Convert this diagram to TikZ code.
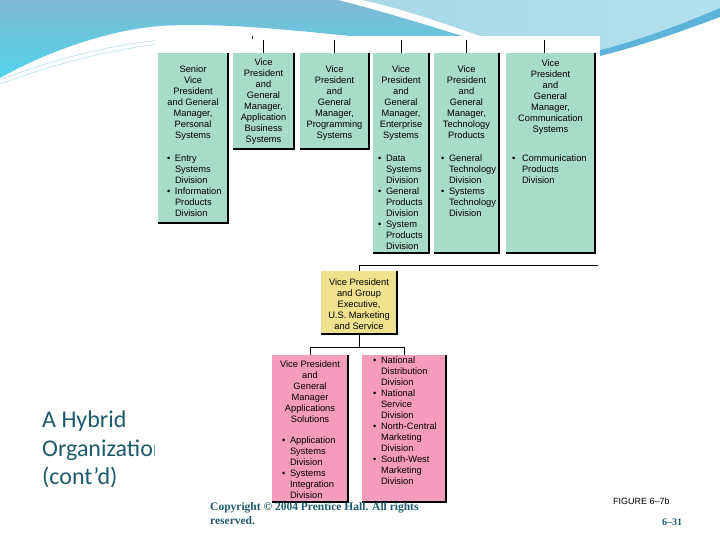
\documentclass[tikz,border=0pt]{standalone}
\usepackage{fontspec}
\setmainfont{Liberation Sans}
\newfontfamily\titlefam{Carlito}
\newfontfamily\copyfam{Liberation Serif}
\usetikzlibrary{positioning}

\definecolor{mintfill}{HTML}{A9DCC8}
\definecolor{sandfill}{HTML}{EFE28E}
\definecolor{rosefill}{HTML}{F59BBB}
\definecolor{slideteal}{HTML}{1D5A6B}
\definecolor{skytop}{HTML}{80B9D4}
\definecolor{skycyan}{HTML}{50D4EA}
\definecolor{skypale}{HTML}{B2E0EE}
\definecolor{skytail}{HTML}{5DB4DA}

\newcommand{\boxfont}{\fontsize{9.3}{11}\selectfont}
% box body: width, height, top gap, contents
\newcommand{\orgbody}[4]{\parbox[c][#2pt][t]{#1pt}{\vspace*{#3pt}#4}}
\newcommand{\orghead}[1]{{\centering #1\par}}
\newcommand{\orgitem}[2]{{\raggedright\leftskip=\dimexpr #1pt+8pt\relax
  \noindent\llap{\makebox[8pt][l]{\textbullet}}#2\par}}

\tikzset{
  orgbox/.style={anchor=north west, inner sep=0pt, outer sep=0pt, font=\boxfont},
  greenbox/.style={orgbox, fill=mintfill},
  yellowbox/.style={orgbox, fill=sandfill},
  pinkbox/.style={orgbox, fill=rosefill},
  orgline/.style={black, line width=0.9pt},
  boxedge/.style={black, line width=1.1pt}
}

\begin{document}
\begin{tikzpicture}[x=1pt, y=-1pt]
    \useasboundingbox (0,0) rectangle (720,540);
    \fill[white] (0,0) rectangle (720,540);

    % Slide swoosh
    \shade[top color=skytop, bottom color=skycyan]
        (0,0) -- (338,0) .. controls (385,12) and (430,26) .. (475,40)
        -- (360,37) .. controls (300,31) and (220,22) .. (160,26)
        .. controls (110,30) and (50,50) .. (0,78) -- cycle;
    \shade[left color=skypale!80!skytop, right color=skypale]
        (362,0) -- (720,0) -- (720,8) .. controls (680,25) and (640,40) .. (600,50)
        -- (600,36) -- (480,36) .. controls (440,22) and (400,8) .. (362,0) -- cycle;
    \fill[skytail] (600,50) .. controls (640,40) and (680,25) .. (720,8)
        -- (720,17) .. controls (680,32) and (640,46) .. (600,56) -- cycle;
    \draw[skypale, line width=0.6pt] (0,80) .. controls (50,60) and (110,45) .. (160,40);
    \draw[skypale, line width=0.6pt] (0,84) .. controls (60,62) and (110,50) .. (160,44);

    % Slide title
    \node[anchor=north west, inner sep=0pt, align=left, text=slideteal,
          font=\titlefam\fontsize{24}{28.5}\selectfont] (title) at (42,411)
        {A Hybrid\\Organization\\(cont’d)};

    % Figure panel
    \fill[white] (155,36) rectangle (600,505);

    % Top row of divisions
    \node[greenbox] (senior) at (158,53) {\orgbody{70}{170}{12.3}{%
        \orghead{Senior\\Vice\\President\\and General\\Manager,\\Personal\\Systems}%
        \vspace{12pt}%
        \orgitem{9}{Entry\\Systems\\Division}%
        \orgitem{9}{Information\\Products\\Division}}};
    \node[greenbox] (vpab) at (233,53) {\orgbody{61}{96}{5.3}{%
        \orghead{Vice\\President\\and\\General\\Manager,\\Application\\Business\\Systems}}};
    \node[greenbox] (vpprog) at (300,53) {\orgbody{69}{96}{12.3}{%
        \orghead{Vice\\President\\and\\General\\Manager,\\Programming\\Systems}}};
    \node[greenbox] (vpent) at (373,53) {\orgbody{56}{200}{12.3}{%
        \orghead{Vice\\President\\and\\General\\Manager,\\Enterprise\\Systems}%
        \vspace{12pt}%
        \orgitem{5}{Data\\Systems\\Division}%
        \orgitem{5}{General\\Products\\Division}%
        \orgitem{5}{System\\Products\\Division}}};
    \node[greenbox] (vptech) at (434,53) {\orgbody{65}{200}{12.3}{%
        \orghead{Vice\\President\\and\\General\\Manager,\\Technology\\Products}%
        \vspace{12pt}%
        \orgitem{7}{General\\Technology\\Division}%
        \orgitem{7}{Systems\\Technology\\Division}}};
    \node[greenbox] (vpcomm) at (506,53) {\orgbody{89}{200}{6.3}{%
        \orghead{Vice\\President\\and\\General\\Manager,\\Communication\\Systems}%
        \vspace{18pt}%
        {\raggedright\leftskip=16pt
         \noindent\llap{\makebox[10pt][l]{\textbullet}}Communication\\Products\\Division\par}}};

    % Marketing group
    \node[yellowbox] (vpmkt) at (321,271) {\orgbody{76}{63}{7.3}{%
        \orghead{Vice President\\and Group\\Executive,\\U.S. Marketing\\and Service}}};
    \node[pinkbox] (vpsol) at (272,355) {\orgbody{76}{147}{5.3}{%
        \orghead{Vice President\\and\\General\\Manager\\Applications\\Solutions}%
        \vspace{10pt}%
        \orgitem{10}{Application\\Systems\\Division}%
        \orgitem{10}{Systems\\Integration\\Division}}};
    \node[pinkbox] (divmkt) at (362,355) {\orgbody{84}{147}{1.3}{%
        \orgitem{11}{National\\Distribution\\Division}%
        \orgitem{11}{National\\Service\\Division}%
        \orgitem{11}{North-Central\\Marketing\\Division}%
        \orgitem{11}{South-West\\Marketing\\Division}}};

    % Box shadows
    \foreach \n in {senior,vpab,vpprog,vpent,vptech,vpcomm,vpmkt,vpsol,divmkt}
        \draw[boxedge] (\n.north east) -- (\n.south east) -- (\n.south west);

    % Connectors
    \draw[orgline] (vpab.north west) ++(19,-14) -- ++(0,-3);
    \foreach \n in {vpab,vpprog,vpent,vptech}
        \draw[orgline] (\n.north) -- ++(0,-13);
    \draw[orgline] (vpcomm.north) ++(-6,0) -- ++(0,-13);
    \coordinate (mktright) at (598,265);
    \draw[orgline] (mktright) -| (vpmkt.north);
    \draw[orgline] (vpmkt.south) -- ++(0,13) coordinate (mktsplit);
    \draw[orgline] (mktsplit) -| (vpsol.north);
    \draw[orgline] (mktsplit) -| (divmkt.north);

    % Footer
    \node[anchor=north west, inner sep=0pt, align=left, text=slideteal,
          font=\copyfam\bfseries\fontsize{11.5}{14}\selectfont] (copyright) at (210,502)
        {Copyright © 2004 Prentice Hall. All rights\\reserved.};
    \node[anchor=base west, inner sep=0pt, font=\fontsize{9}{10}\selectfont] (figno)
        at (613,504) {FIGURE 6–7b};
    \node[anchor=base west, inner sep=0pt, text=slideteal,
          font=\copyfam\bfseries\fontsize{10}{12}\selectfont] (pageno)
        at (662,525) {6–31};
\end{tikzpicture}
\end{document}
